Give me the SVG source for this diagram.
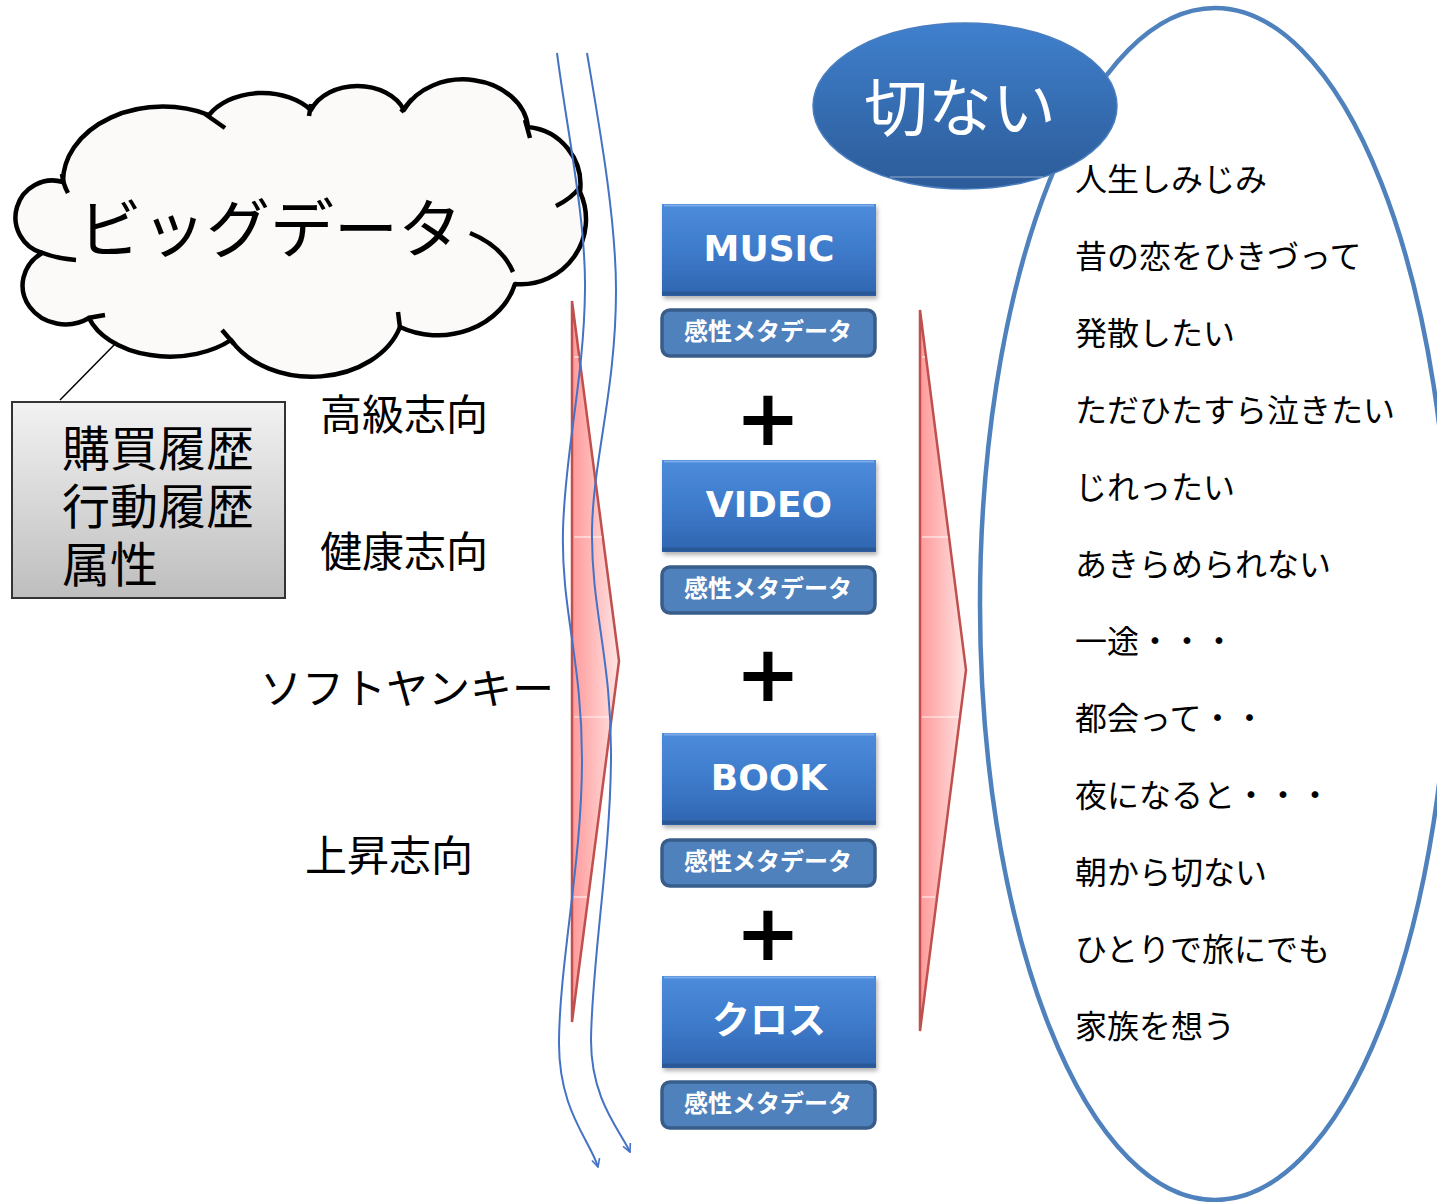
<svg xmlns="http://www.w3.org/2000/svg" width="1437" height="1202" viewBox="0 0 1437 1202">
<defs>
<style>
.jp{font-family:"Noto Sans CJK JP","Noto Sans",sans-serif;}
.lbl{font-family:"Noto Sans CJK JP",sans-serif;font-size:42px;fill:#000;}
.lst{font-family:"Noto Sans CJK JP",sans-serif;font-size:32px;fill:#000;}
.btn{font-family:"DejaVu Sans","Noto Sans CJK JP",sans-serif;font-weight:bold;font-size:36px;fill:#fff;text-anchor:middle;}
.meta{font-family:"Noto Sans CJK JP",sans-serif;font-weight:bold;font-size:24px;fill:#fff;text-anchor:middle;}
.plus{font-family:"DejaVu Sans",sans-serif;font-weight:bold;font-size:78px;fill:#000;text-anchor:middle;}
.cloud{fill:#FBFAF8;stroke:#000;stroke-width:4.5;stroke-linejoin:round;}
.tick{fill:none;stroke:#000;stroke-width:4.5;}
.wave{fill:none;stroke:#4472C4;stroke-width:2;marker-end:url(#open);}
.redarrow{fill:url(#redGrad);stroke:#C0504D;stroke-width:2.5;stroke-linejoin:miter;}
.gl{stroke:#fff;stroke-width:1.2;opacity:0.8;}
.meta-box{fill:#4F81BD;stroke:#385D8A;stroke-width:3.5;}
</style>
<linearGradient id="boxGrad" x1="0" y1="0" x2="0" y2="1">
<stop offset="0" stop-color="#4D8BDB"/>
<stop offset="0.5" stop-color="#3E7BCB"/>
<stop offset="1" stop-color="#3065B0"/>
</linearGradient>
<linearGradient id="ellGrad" x1="0" y1="0" x2="0" y2="1">
<stop offset="0" stop-color="#3F80CD"/>
<stop offset="1" stop-color="#2C5B98"/>
</linearGradient>
<linearGradient id="grayGrad" x1="0" y1="0" x2="0" y2="1">
<stop offset="0" stop-color="#F2F2F2"/>
<stop offset="1" stop-color="#BEBEBE"/>
</linearGradient>
<linearGradient id="redGrad" x1="0" y1="0" x2="1" y2="0">
<stop offset="0" stop-color="#FF9A9A"/>
<stop offset="1" stop-color="#FFE4E4"/>
</linearGradient>
<filter id="shadow" x="-10%" y="-10%" width="125%" height="130%">
<feDropShadow dx="1.5" dy="3" stdDeviation="2" flood-color="#000" flood-opacity="0.3"/>
</filter>
<marker id="open" viewBox="0 0 10 10" refX="9" refY="5" markerWidth="5" markerHeight="5" orient="auto" markerUnits="strokeWidth">
<path d="M1,1 L9,5 L1,9" fill="none" stroke="#4472C4" stroke-width="1.6"/>
</marker>
</defs>

<rect width="1437" height="1202" fill="#fff"/>

<g id="kanji-ellipse">
<ellipse cx="1215" cy="604" rx="235" ry="596" fill="none" stroke="#4F81BD" stroke-width="4.5"/>
</g>

<g id="setsunai">
<ellipse cx="965" cy="106" rx="152" ry="83" fill="url(#ellGrad)" stroke="#4A7EC0" stroke-width="1.5"/>
<line x1="890" y1="177" x2="1043" y2="177" stroke="#fff" stroke-width="1" opacity="0.5"/>
<text class="jp" x="960" y="131" font-size="64" fill="#fff" text-anchor="middle">切ない</text>
</g>

<g id="bigdata-cloud">
<path class="cloud" d="M63,182 A100 75 0 0 1 209,115 A62 45 0 0 1 311,110 A50 38 0 0 1 404,110 A65 52 0 0 1 528,127 A58 58 0 0 1 580,192 A65 65 0 0 1 515,284 A80 70 0 0 1 400,327 A92 70 0 0 1 231,340 A85 55 0 0 1 89,318 A42 38 0 0 1 42,253 A37 37 0 0 1 63,182 Z"/>
<path class="tick" d="M62,174 Q63,184 68,193"/>
<path class="tick" d="M40,252 Q58,259 76,260"/>
<path class="tick" d="M88,318 L105,315"/>
<path class="tick" d="M222,330 L234,344"/>
<path class="tick" d="M398,312 L400,328"/>
<path class="tick" d="M513,272 Q502,246 470,233"/>
<path class="tick" d="M580,187 Q572,198 556,206"/>
<path class="tick" d="M525,120 L530,138"/>
<path class="tick" d="M311,104 L309,116"/>
<path class="tick" d="M205,114 L225,128"/>
<path class="tick" d="M412,99 L401,112"/>
<text class="jp" x="78" y="252" font-size="64" fill="#000">ビッグデータ</text>
</g>

<g id="history-box">
<rect x="12" y="402" width="273" height="196" fill="url(#grayGrad)" stroke="#333" stroke-width="2"/>
<text class="jp" x="62" y="466" font-size="48" fill="#000">購買履歴</text>
<text class="jp" x="62" y="524" font-size="48" fill="#000">行動履歴</text>
<text class="jp" x="62" y="582" font-size="48" fill="#000">属性</text>
</g>

<g id="labels">
<text class="lbl" x="320" y="430">高級志向</text>
<text class="lbl" x="320" y="567">健康志向</text>
<text class="lbl" x="260" y="704">ソフトヤンキー</text>
<text class="lbl" x="305" y="871">上昇志向</text>
</g>

<g id="red-arrow-left">
<polygon class="redarrow" points="572,301 619,661 572,1022"/>
<line class="gl" x1="574" y1="357" x2="579" y2="357"/>
<line class="gl" x1="574" y1="537" x2="602" y2="537"/>
<line class="gl" x1="574" y1="717" x2="611" y2="717"/>
<line class="gl" x1="574" y1="897" x2="587" y2="897"/>
</g>

<g id="red-arrow-right">
<polygon class="redarrow" points="920,310 966,670 920,1031"/>
<line class="gl" x1="922" y1="357" x2="925" y2="357"/>
<line class="gl" x1="922" y1="537" x2="948" y2="537"/>
<line class="gl" x1="922" y1="717" x2="959" y2="717"/>
<line class="gl" x1="922" y1="897" x2="935" y2="897"/>
</g>

<g id="music">
<rect x="662" y="204" width="214" height="92" fill="url(#boxGrad)" filter="url(#shadow)"/>
<line x1="664" y1="205.5" x2="874" y2="205.5" stroke="#7AAAE8" stroke-width="2"/>
<line x1="662" y1="293.5" x2="876" y2="293.5" stroke="#2A5896" stroke-width="4"/>
<text class="btn" x="769" y="261">MUSIC</text>
</g>
<g id="music-meta">
<rect class="meta-box" x="662" y="310" width="213" height="46" rx="8"/>
<text class="meta" x="768" y="340">感性メタデータ</text>
</g>

<g id="plus1"><text class="plus" x="768" y="445">+</text></g>

<g id="video">
<rect x="662" y="460" width="214" height="92" fill="url(#boxGrad)" filter="url(#shadow)"/>
<line x1="664" y1="461.5" x2="874" y2="461.5" stroke="#7AAAE8" stroke-width="2"/>
<line x1="662" y1="549.5" x2="876" y2="549.5" stroke="#2A5896" stroke-width="4"/>
<text class="btn" x="769" y="517">VIDEO</text>
</g>
<g id="video-meta">
<rect class="meta-box" x="662" y="567" width="213" height="46" rx="8"/>
<text class="meta" x="768" y="597">感性メタデータ</text>
</g>

<g id="plus2"><text class="plus" x="768" y="701">+</text></g>

<g id="book">
<rect x="662" y="733" width="214" height="92" fill="url(#boxGrad)" filter="url(#shadow)"/>
<line x1="664" y1="734.5" x2="874" y2="734.5" stroke="#7AAAE8" stroke-width="2"/>
<line x1="662" y1="822.5" x2="876" y2="822.5" stroke="#2A5896" stroke-width="4"/>
<text class="btn" x="769" y="790">BOOK</text>
</g>
<g id="book-meta">
<rect class="meta-box" x="662" y="840" width="213" height="46" rx="8"/>
<text class="meta" x="768" y="870">感性メタデータ</text>
</g>

<g id="plus3"><text class="plus" x="768" y="960">+</text></g>

<g id="cloth">
<rect x="662" y="976" width="214" height="92" fill="url(#boxGrad)" filter="url(#shadow)"/>
<line x1="664" y1="977.5" x2="874" y2="977.5" stroke="#7AAAE8" stroke-width="2"/>
<line x1="662" y1="1065.5" x2="876" y2="1065.5" stroke="#2A5896" stroke-width="4"/>
<text class="btn" x="769" y="1033" style="font-family:'Noto Sans CJK JP',sans-serif;font-size:38px">クロス</text>
</g>
<g id="cloth-meta">
<rect class="meta-box" x="662" y="1082" width="213" height="46" rx="8"/>
<text class="meta" x="768" y="1112">感性メタデータ</text>
</g>

<g id="feelings">
<text class="lst" x="1075" y="191">人生しみじみ</text>
<text class="lst" x="1075" y="268">昔の恋をひきづって</text>
<text class="lst" x="1075" y="345">発散したい</text>
<text class="lst" x="1075" y="422">ただひたすら泣きたい</text>
<text class="lst" x="1075" y="499">じれったい</text>
<text class="lst" x="1075" y="576">あきらめられない</text>
<text class="lst" x="1075" y="653">一途・・・</text>
<text class="lst" x="1075" y="730">都会って・・</text>
<text class="lst" x="1075" y="807">夜になると・・・</text>
<text class="lst" x="1075" y="884">朝から切ない</text>
<text class="lst" x="1075" y="961">ひとりで旅にでも</text>
<text class="lst" x="1075" y="1038">家族を想う</text>
</g>

<g id="connectors">
<line x1="60" y1="400" x2="117" y2="342" stroke="#000" stroke-width="1.5"/>
<path class="wave" d="M557,53 C567,130 586,220 585,290 C584,380 565,450 563,530 C561,610 582,660 582,760 C582,860 560,960 559,1040 C558,1110 590,1140 598,1167"/>
<path class="wave" d="M587,53 C600,130 616,220 616,290 C616,390 593,460 592,530 C591,610 612,660 611,760 C610,860 592,960 591,1040 C591,1100 620,1130 630,1152"/>
</g>
</svg>
